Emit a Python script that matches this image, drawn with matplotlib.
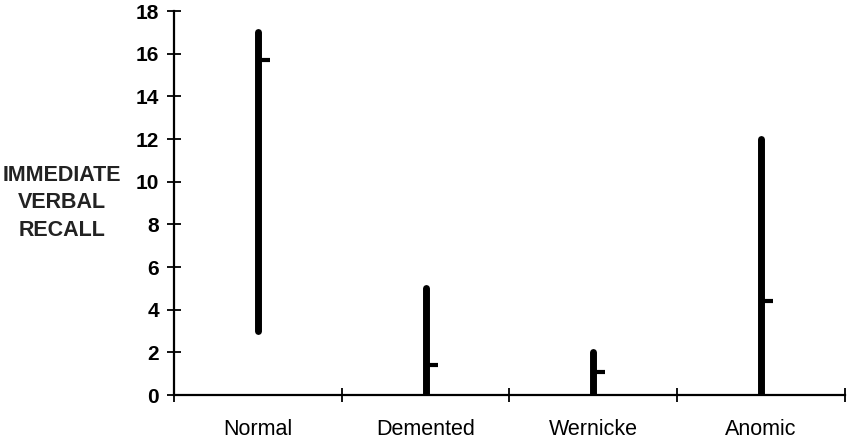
import numpy as np
import matplotlib.pyplot as plt

plt.rcParams['font.family'] = 'Liberation Sans'

groups = ['Normal', 'Demented', 'Wernicke', 'Anomic']
high = [17, 5, 2, 12]
low = [3, 0, 0, 0]
mean = [15.7, 1.4, 1.1, 4.4]

fig = plt.figure(figsize=(8.51, 4.41), dpi=100)
ax = fig.add_axes([0.2045, 0.104, 0.788, 0.871])

x = np.arange(len(groups)) + 0.5

# high-low lines with a small tick at the mean
ax.vlines(x, low, high, color='black', linewidth=5, capstyle='round')
ax.plot(x + 0.012, mean, linestyle='none', marker=1, markersize=7,
        markeredgewidth=3, color='black')

ax.set_xlim(0, 4)
ax.set_ylim(0, 18)
ax.set_yticks(range(0, 19, 2))
ax.set_xticks(range(0, 5))
ax.set_xticklabels([])
ax.set_xticks(x, minor=True)
ax.set_xticklabels(groups, minor=True, fontsize=15.5)

ax.tick_params(axis='y', direction='inout', length=10, width=1.3,
               labelsize=15, pad=6)
for lab in ax.get_yticklabels():
    lab.set_fontweight('bold')
ax.tick_params(axis='x', which='major', direction='inout', length=10, width=1.3)
ax.tick_params(axis='x', which='minor', length=0, pad=17)

for s in ['top', 'right']:
    ax.spines[s].set_visible(False)
for s in ['left', 'bottom']:
    ax.spines[s].set_linewidth(1.6)

fig.text(62 / 851, 1 - 203 / 441, 'IMMEDIATE\nVERBAL\nRECALL', ha='center',
         va='center', fontsize=15.5, fontweight='bold', linespacing=1.4,
         color='#222222')

fig.savefig('out.png', dpi=100)
